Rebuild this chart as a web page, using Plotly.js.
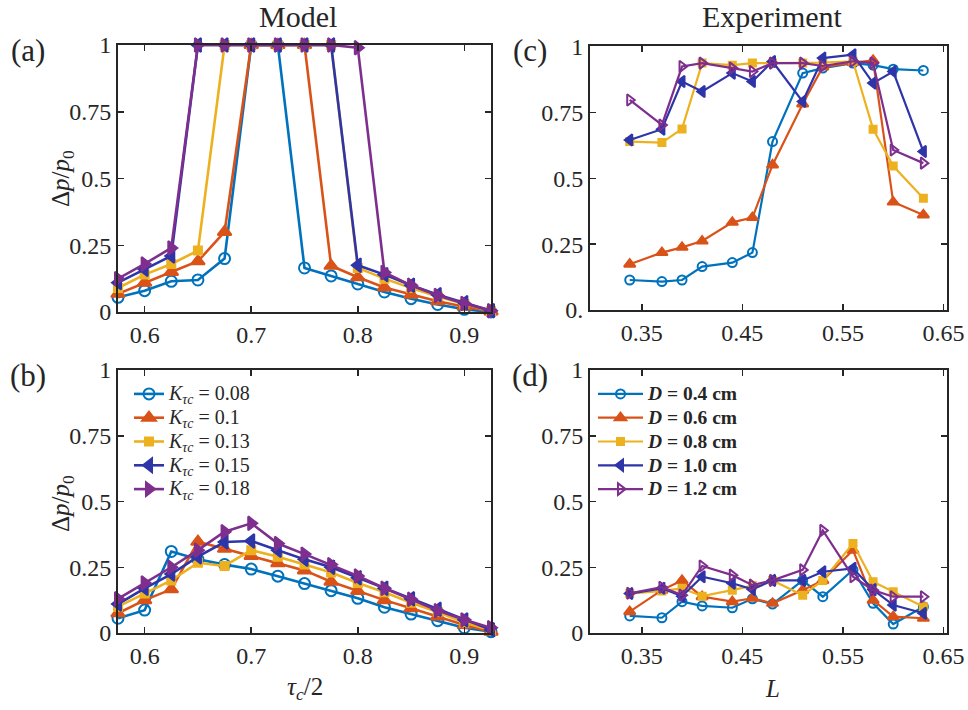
<!DOCTYPE html>
<html>
<head>
<meta charset="utf-8">
<script src="https://cdn.plot.ly/plotly-3.0.1.min.js"></script>
<style>html,body{margin:0;padding:0;background:#fff;}#chart{width:968px;height:710px;}</style>
</head>
<body>
<div id="chart"></div>
<script>
// ---- Model data (tau_c/2) ----
const tau = [0.575,0.6,0.625,0.65,0.675,0.7,0.725,0.75,0.775,0.8,0.825,0.85,0.875,0.9,0.925];
const modelNames = ["0.08","0.1","0.13","0.15","0.18"];
const a_K008 = [0.055,0.08,0.115,0.12,0.2,1,1,0.165,0.135,0.105,0.075,0.05,0.028,0.01,0.0];
const a_K010 = [0.068,0.11,0.15,0.19,0.3,1,1,1,0.173,0.13,0.092,0.065,0.04,0.02,0.002];
const a_K013 = [0.09,0.14,0.18,0.23,1,1,1,1,1,0.165,0.125,0.09,0.058,0.03,0.004];
const a_K015 = [0.11,0.16,0.21,1,1,1,1,1,1,0.175,0.14,0.1,0.065,0.035,0.005];
const a_K018 = [0.125,0.18,0.24,1,1,1,1,1,1,0.99,0.148,0.1,0.062,0.032,0.005];

const b_K008 = [0.056,0.087,0.31,0.28,0.26,0.243,0.216,0.188,0.161,0.132,0.098,0.072,0.047,0.02,0.005];
const b_K010 = [0.075,0.125,0.166,0.347,0.32,0.293,0.265,0.238,0.195,0.16,0.125,0.094,0.063,0.03,0.005];
const b_K013 = [0.1,0.15,0.2,0.267,0.255,0.315,0.29,0.26,0.23,0.19,0.155,0.115,0.08,0.04,0.01];
const b_K015 = [0.11,0.17,0.224,0.29,0.346,0.35,0.315,0.28,0.25,0.21,0.17,0.13,0.09,0.05,0.012];
const b_K018 = [0.13,0.19,0.25,0.315,0.385,0.417,0.34,0.30,0.26,0.217,0.17,0.128,0.085,0.05,0.02];

// ---- Experiment data (L) ----
const L = [0.338,0.37,0.39,0.41,0.44,0.46,0.48,0.51,0.53,0.56,0.58,0.60,0.63];
const expNames = ["0.4","0.6","0.8","1.0","1.2"];
const c_D04 = [0.114,0.108,0.114,0.165,0.18,0.218,0.64,0.9,0.919,0.938,0.93,0.915,0.91];
const c_D06 = [0.174,0.218,0.238,0.262,0.333,0.351,0.551,0.783,0.923,0.94,0.948,0.41,0.361];
const c_D08 = [0.64,0.636,0.688,0.938,0.93,0.938,0.938,0.938,0.94,0.945,0.687,0.547,0.425];
const c_D10 = [0.646,0.687,0.868,0.83,0.9,0.868,0.944,0.792,0.957,0.97,0.862,0.906,0.602];
const c_D12 = [0.798,0.703,0.925,0.938,0.919,0.906,0.938,0.938,0.927,0.945,0.938,0.608,0.558];

const d_D04 = [0.065,0.058,0.119,0.103,0.096,0.13,0.11,0.2,0.138,0.24,0.113,0.034,0.1];
const d_D06 = [0.081,0.163,0.2,0.138,0.119,0.132,0.113,0.163,0.2,0.315,0.125,0.062,0.056];
const d_D08 = [0.15,0.16,0.17,0.14,0.163,0.18,0.2,0.144,0.2,0.34,0.195,0.157,0.1];
const d_D10 = [0.15,0.17,0.14,0.214,0.189,0.166,0.2,0.2,0.233,0.246,0.165,0.106,0.075];
const d_D12 = [0.151,0.174,0.144,0.255,0.22,0.182,0.2,0.24,0.39,0.214,0.163,0.138,0.138];

const colors = ["#0072BD","#D95319","#EDB120","#2E35A8","#7E2F8E"];
const symbolsModel = ["circle-open","triangle-up","square","triangle-left","triangle-right"];
const symbolsExp = ["circle-open","triangle-up","square","triangle-left","triangle-right-open"];
const sizesModel = [11,12,8,12,12];
const sizesExp = [9,10,7,10,10];

const FONT = "Liberation Serif, Times New Roman, serif";
const traces = [];
const aSets = [a_K008,a_K010,a_K013,a_K015,a_K018];
const bSets = [b_K008,b_K010,b_K013,b_K015,b_K018];
const cSets = [c_D04,c_D06,c_D08,c_D10,c_D12];
const dSets = [d_D04,d_D06,d_D08,d_D10,d_D12];

function mk(x, y, i, xa, ya, syms, sizes, lw, name, show, leg) {
  return {x:x, y:y, type:"scatter", mode:"lines+markers", xaxis:xa, yaxis:ya,
    name:name, showlegend:show, legend:leg,
    line:{color:colors[i], width:lw},
    marker:{symbol:syms[i], size:sizes[i], color:colors[i], line:{color:colors[i], width:2}},
    cliponaxis:false};
}
for (let i=0;i<5;i++) traces.push(mk(tau,aSets[i],i,"x","y",symbolsModel,sizesModel,2.6,"",false,"legend"));
for (let i=0;i<5;i++) traces.push(mk(tau,bSets[i],i,"x2","y2",symbolsModel,sizesModel,2.6,
  '<span style="font-size:20px"><i>K</i><sub><i>τc</i></sub> = '+modelNames[i]+'</span>',true,"legend"));
for (let i=0;i<5;i++) traces.push(mk(L,cSets[i],i,"x3","y3",symbolsExp,sizesExp,2.2,"",false,"legend2"));
for (let i=0;i<5;i++) traces.push(mk(L,dSets[i],i,"x4","y4",symbolsExp,sizesExp,2.2,
  '<span style="font-size:19.5px"><b><i>D</i> = '+expNames[i]+' cm</b></span>',true,"legend2"));

const W=968,H=710;
const px = v=>v/W, py = v=>1-v/H;
const INK = "#262626";
const tickFont = {family:FONT, size:24, color:INK};
function xax(l,r,anchor,tv,tt,range){return {domain:[px(l),px(r)],anchor:anchor,range:range,
  tickvals:tv,ticktext:tt,ticks:"inside",ticklen:6,tickwidth:1.5,tickcolor:INK,
  showline:true,linecolor:INK,linewidth:2,mirror:"ticks",showgrid:false,zeroline:false,
  tickfont:tickFont,fixedrange:true};}
function yax(t,b,anchor,tt,range){return {domain:[py(b),py(t)],anchor:anchor,range:range,
  tickvals:[0,0.25,0.5,0.75,1],ticktext:tt,ticks:"inside",ticklen:6,tickwidth:1.5,tickcolor:INK,
  showline:true,linecolor:INK,linewidth:2,mirror:"ticks",showgrid:false,zeroline:false,
  tickfont:tickFont,fixedrange:true};}

const mTicks=[0.6,0.7,0.8,0.9], mText=["0.6","0.7","0.8","0.9"];
const eTicks=[0.35,0.45,0.55,0.65], eText=["0.35","0.45","0.55","0.65"];
const yTxt=["0","0.25","0.5","0.75","1"];
const yTxtC=["0.","0.25","0.5","0.75","1"];

function ann(text,x,y,size,angle){return {text:text,x:px(x),y:py(y),xref:"paper",yref:"paper",
  xanchor:"center",yanchor:"middle",showarrow:false,textangle:angle||0,
  font:{family:FONT,size:size,color:INK}};}

const layout = {
  width:W, height:H, margin:{l:0,r:0,t:0,b:0}, paper_bgcolor:"#fff", plot_bgcolor:"#fff",
  font:{family:FONT, color:INK},
  xaxis: xax(118,491,"y",mTicks,mText,[0.575,0.925]),
  yaxis: yax(45,312,"x",yTxt,[0,1]),
  xaxis2: xax(118,491,"y2",mTicks,mText,[0.575,0.925]),
  yaxis2: yax(370,633,"x2",yTxt,[0,1]),
  xaxis3: xax(590,947,"y3",eTicks,eText,[0.2985,0.6535]),
  yaxis3: yax(46,310,"x3",yTxtC,[0,1.003]),
  xaxis4: xax(590,947,"y4",eTicks,eText,[0.2985,0.6535]),
  yaxis4: yax(370,633,"x4",yTxt,[0,1]),
  legend:{x:px(129),y:py(377),xanchor:"left",yanchor:"top",bgcolor:"rgba(0,0,0,0)",borderwidth:0,
    font:{family:FONT,size:16,color:INK},tracegroupgap:0},
  legend2:{x:px(593),y:py(377),xanchor:"left",yanchor:"top",bgcolor:"rgba(0,0,0,0)",borderwidth:0,
    itemwidth:45,font:{family:FONT,size:16,color:INK},tracegroupgap:0},
  annotations:[
    ann("Model",298,17,30),
    ann("Experiment",772,17,30),
    ann("(a)",28,50,31),
    ann("(b)",28,375,31),
    ann("(c)",530,50,31),
    ann("(d)",530,375,31),
    ann("Δ<i>p</i>/<i>p</i><sub>0</sub>",62,178,25,-90),
    ann("Δ<i>p</i>/<i>p</i><sub>0</sub>",62,503,25,-90),
    ann("<i>τ</i><sub><i>c</i></sub>/2",305,688,25),
    ann("<i>L</i>",772,688,25)
  ]
};
Plotly.newPlot("chart", traces, layout, {displayModeBar:false, staticPlot:true});
</script>
</body>
</html>
